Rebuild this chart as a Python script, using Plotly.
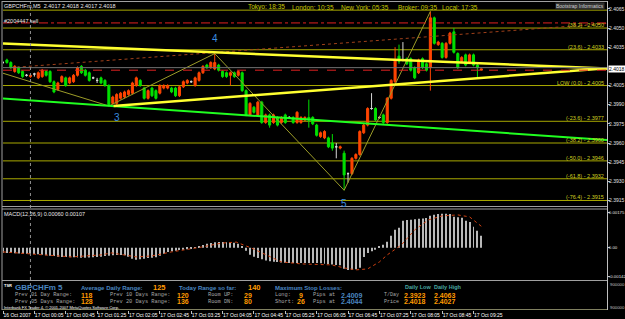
import plotly.graph_objects as go

W, H = 625, 319

# ---------------- data ----------------
bar_idx = list(range(123))  # 5-minute bars, 16 Oct 23:25 .. 17 Oct 09:35

opens = [2.4023,2.4025,2.4023,2.4016,2.4019,2.4016,2.4013,2.4012,2.4014,2.4011,
         2.4012,2.4016,2.4016,2.4008,2.4002,2.4008,2.4011,2.4007,2.4008,2.4013,
         2.4020,2.4017,2.4015,2.4011,2.4009,2.4011,2.4009,2.4005,2.3991,2.3991,
         2.3995,2.3996,2.3998,2.3999,2.4005,2.4009,2.4003,2.3995,2.4003,2.4001,
         2.3999,2.4003,2.4003,2.4003,2.4003,2.3997,2.4004,2.4007,2.4008,2.4005,
         2.4009,2.4015,2.4021,2.4019,2.4018,2.4021,2.4016,2.4015,2.4013,2.4015,
         2.4013,2.4015,2.4001,2.3982,2.3988,2.3982,2.3992,2.3976,2.3982,2.3976,
         2.3980,2.3976,2.3982,2.3980,2.3980,2.3976,2.3976,2.3978,2.3980,2.3980,
         2.3974,2.3965,2.3964,2.3964,2.3960,2.3957,2.3956,2.3952,2.3936,2.3936,
         2.3948,2.3951,2.3968,2.3974,2.3987,2.3987,2.3980,2.3982,2.3976,2.3995,
         2.4008,2.4028,2.4025,2.4026,2.4026,2.4019,2.4015,2.4026,2.4022,2.4019,
         2.4058,2.4037,2.4038,2.4027,2.4038,2.4047,2.4030,2.4024,2.4029,2.4023,
         2.4029,2.4021,2.4017]
highs = [2.4024,2.4026,2.4024,2.4021,2.4020,2.4017,2.4014,2.4014,2.4015,2.4016,
         2.4018,2.4017,2.4017,2.4009,2.4008,2.4013,2.4012,2.4012,2.4014,2.4020,
         2.4021,2.4018,2.4016,2.4012,2.4011,2.4012,2.4010,2.4006,2.3997,2.3999,
         2.4000,2.4001,2.4002,2.4008,2.4012,2.4010,2.4004,2.4002,2.4004,2.4002,
         2.4006,2.4006,2.4006,2.4004,2.4004,2.4005,2.4009,2.4010,2.4009,2.4012,
         2.4016,2.4021,2.4022,2.4024,2.4030,2.4022,2.4017,2.4016,2.4016,2.4016,
         2.4017,2.4016,2.4002,2.3992,2.3989,2.3993,2.3993,2.3983,2.3983,2.3983,
         2.3981,2.3981,2.3983,2.3981,2.3981,2.3985,2.3981,2.3981,2.3994,2.3981,
         2.3975,2.3969,2.3970,2.3965,2.3967,2.3960,2.3958,2.3954,2.3937,2.3949,
         2.3952,2.3970,2.3975,2.3988,2.3999,2.3988,2.3981,2.3983,2.3996,2.4010,
         2.4035,2.4037,2.4039,2.4027,2.4027,2.4020,2.4026,2.4027,2.4023,2.4063,
         2.4059,2.4040,2.4039,2.4039,2.4047,2.4050,2.4031,2.4028,2.4030,2.4030,
         2.4030,2.4022,2.4018]
lows = [2.4022,2.4022,2.4018,2.4015,2.4014,2.4011,2.4012,2.4011,2.4012,2.4010,
        2.4011,2.4012,2.4007,2.3999,2.4001,2.4007,2.4004,2.4006,2.4007,2.4012,
        2.4014,2.4012,2.4008,2.4010,2.4007,2.4006,2.4004,2.3989,2.3990,2.3990,
        2.3994,2.3995,2.3997,2.3998,2.4004,2.4004,2.3994,2.3994,2.3996,2.3994,
        2.3998,2.4002,2.4002,2.3999,2.3996,2.3996,2.4003,2.4006,2.4007,2.4004,
        2.4008,2.4014,2.4018,2.4018,2.4017,2.4016,2.4011,2.4011,2.4005,2.4011,
        2.4012,2.4000,2.3981,2.3981,2.3983,2.3981,2.3975,2.3975,2.3972,2.3975,
        2.3973,2.3975,2.3975,2.3979,2.3975,2.3975,2.3975,2.3977,2.3972,2.3974,
        2.3965,2.3964,2.3963,2.3956,2.3954,2.3948,2.3955,2.3923,2.3929,2.3935,
        2.3947,2.3950,2.3967,2.3973,2.3986,2.3977,2.3979,2.3975,2.3975,2.3994,
        2.4007,2.4022,2.4024,2.4021,2.4016,2.4010,2.4014,2.4018,2.4016,2.4001,
        2.4037,2.4036,2.4026,2.4026,2.4037,2.4030,2.4018,2.4023,2.4020,2.4022,
        2.4020,2.4011,2.4017]
closes = [2.4023,2.4023,2.4019,2.4020,2.4015,2.4012,2.4013,2.4013,2.4014,2.4015,
          2.4017,2.4013,2.4008,2.4000,2.4007,2.4012,2.4005,2.4011,2.4013,2.4019,
          2.4015,2.4013,2.4009,2.4011,2.4009,2.4007,2.4005,2.3990,2.3996,2.3998,
          2.3999,2.4000,2.4001,2.4007,2.4011,2.4005,2.3995,2.4001,2.3997,2.3995,
          2.4005,2.4005,2.4005,2.4000,2.3997,2.4004,2.4008,2.4009,2.4008,2.4011,
          2.4015,2.4020,2.4019,2.4023,2.4023,2.4017,2.4012,2.4012,2.4015,2.4012,
          2.4016,2.4001,2.3982,2.3991,2.3984,2.3992,2.3976,2.3982,2.3974,2.3982,
          2.3974,2.3980,2.3976,2.3980,2.3976,2.3984,2.3980,2.3980,2.3978,2.3975,
          2.3966,2.3968,2.3969,2.3957,2.3956,2.3957,2.3957,2.3935,2.3936,2.3948,
          2.3951,2.3969,2.3974,2.3987,2.3987,2.3978,2.3980,2.3976,2.3995,2.4009,
          2.4025,2.4024,2.4025,2.4022,2.4017,2.4011,2.4025,2.4019,2.4017,2.4058,
          2.4038,2.4039,2.4027,2.4038,2.4046,2.4031,2.4019,2.4027,2.4021,2.4029,
          2.4021,2.4019,2.4018]

macd_hist = [-0.00025,-0.00026,-0.00027,-0.00028,-0.00029,-0.00030,-0.00030,-0.00030,
             -0.00031,-0.00033,-0.00035,-0.00038,-0.00040,-0.00042,-0.00045,-0.00046,
             -0.00047,-0.00048,-0.00048,-0.00049,-0.00050,-0.00050,-0.00049,-0.00048,-0.00047,-0.00045,
             -0.00042,-0.00040,-0.00038,-0.00037,-0.00037,-0.00038,-0.00045,
             -0.00055,-0.00060,-0.00058,
             -0.00055,-0.00052,-0.00050,-0.00048,-0.00040,
             -0.00030,-0.00022,-0.00018,-0.00015,-0.00012,-0.00010,-0.00008,-0.00005,
             0.00002,0.00008,0.00014,0.00020,0.00024,0.00027,0.00028,0.00028,0.00027,0.00026,0.00025,
             0.00020,0.00005,-0.00015,
             -0.00035,-0.00045,-0.00052,-0.00058,-0.00064,-0.00068,
             -0.00070,-0.00072,-0.00074,-0.00075,-0.00076,-0.00077,-0.00077,-0.00077,-0.00077,-0.00076,-0.00076,-0.00077,-0.00078,
             -0.00080,-0.00082,-0.00084,-0.00086,-0.00088,
             -0.00105,-0.00112,-0.00110,-0.00108,-0.00100,
             -0.00047,-0.00027,-0.00018,-0.00010,0.00005,
             0.00015,0.00030,0.00060,
             0.00090,0.00100,
             0.00135,0.00138,0.00140,0.00142,0.00145,0.00146,0.00148,
             0.00160,0.00165,0.00168,0.00170,0.00170,0.00168,
             0.00155,0.00152,0.00150,
             0.00135,0.00128,
             0.00105,0.00085,0.00060]

signal_idx = [0, 12.3, 17.5, 25, 27.7, 34, 38, 43, 50.6, 55.7, 59.5, 63.4, 67.2, 71,
              76, 83.8, 87, 90, 93, 96, 98, 101.6, 105, 108.5, 112, 116, 119, 122]
signal_val = [-0.00021,-0.00036,-0.00046,-0.00036,-0.00026,-0.00046,-0.00041,-0.00021,
              0.00003,0.00023,0.00028,-0.00002,-0.00036,-0.00071,-0.00081,-0.00086,
              -0.00101,-0.00111,-0.00106,-0.00071,-0.00036,0.00014,0.00089,0.00139,
              0.00159,0.00164,0.00154,0.00107]

fib_prices = [2.4064, 2.4050, 2.4033, 2.4005, 2.3977, 2.3960, 2.3946, 2.3932, 2.3915]
fib_texts = ["(50.0) - 2.4064", "(38.2) - 2.4050", "(23.6) - 2.4033", "LOW (0.0) - 2.4005",
             "(-23.6) - 2.3977", "(-38.2) - 2.3960", "(-50.0) - 2.3946", "(-61.8) - 2.3932",
             "(-76.4) - 2.3915"]

sell_order_price = 2.4054
red_level_price = 2.4017
bid_price = 2.4018

trend_down_x, trend_down_y = [-1, 156], [2.4038, 2.4018]      # yellow
trend_up_x, trend_up_y = [28.2, 156], [2.3989, 2.4019]        # yellow
trend_green_x, trend_green_y = [-1, 156], [2.3995, 2.3962]    # lime
trend_red_x, trend_red_y = [2, 156], [2.4019, 2.4054]         # brown

zigzag_x = [-0.4, 27, 54, 87, 109]
zigzag_y = [2.4015, 2.3989, 2.4030, 2.3923, 2.4063]

wave_labels = ["3", "4", "5"]
wave_x = [29, 54, 87]
wave_y = [2.3980, 2.4042, 2.3913]

price_ticks = [2.4065, 2.4050, 2.4035, 2.4005, 2.3990, 2.3975, 2.3960, 2.3945, 2.3930, 2.3915]
macd_ticks = [0.00175, 0.0, -0.00142]
macd_tick_text = ["0.00175", "0.00", "-0.00142"]

time_tick_idx = [0, 8, 16, 24, 32, 40, 48, 56, 64, 72, 80, 88, 96, 104, 112, 120]
time_tick_text = ["16 Oct 2007", "17 Oct 00:05", "17 Oct 00:45", "17 Oct 01:25", "17 Oct 02:05",
                  "17 Oct 02:45", "17 Oct 03:25", "17 Oct 04:05", "17 Oct 04:45", "17 Oct 05:25",
                  "17 Oct 06:05", "17 Oct 06:45", "17 Oct 07:25", "17 Oct 08:05", "17 Oct 08:45",
                  "17 Oct 09:25"]
day_separator_idx = 7

# ---------------- styles ----------------
UP = "#ff4500"
DN = "#00e000"
DOJI = "#d8d8d8"
FIB = "#a8a800"
FONT = "Liberation Sans"

fig = go.Figure()

def candle_subset(sel, inc, dec):
    return go.Candlestick(
        x=[bar_idx[i] for i in sel], open=[opens[i] for i in sel], high=[highs[i] for i in sel],
        low=[lows[i] for i in sel], close=[closes[i] for i in sel],
        increasing=dict(line=dict(color=inc, width=1), fillcolor=inc),
        decreasing=dict(line=dict(color=dec, width=1), fillcolor=dec),
        whiskerwidth=0, showlegend=False, hoverinfo="skip", xaxis="x", yaxis="y")

up_sel = [i for i in bar_idx if closes[i] > opens[i]]
dn_sel = [i for i in bar_idx if closes[i] < opens[i]]
dj_sel = [i for i in bar_idx if closes[i] == opens[i]]
fig.add_trace(candle_subset(up_sel, UP, UP))
fig.add_trace(candle_subset(dn_sel, DN, DN))
fig.add_trace(candle_subset(dj_sel, DOJI, DOJI))

def line(x, y, color, width, dash="solid"):
    fig.add_trace(go.Scatter(x=x, y=y, mode="lines", line=dict(color=color, width=width, dash=dash),
                             showlegend=False, hoverinfo="skip", xaxis="x", yaxis="y"))

line(trend_red_x, trend_red_y, "#a0401a", 1, "dot")
line(zigzag_x, zigzag_y, "#9c9c28", 1)
line(trend_green_x, trend_green_y, "#20ff20", 2)
line(trend_down_x, trend_down_y, "#ffff30", 2.5)
line(trend_up_x, trend_up_y, "#ffff30", 2.5)

# MACD
fig.add_trace(go.Bar(x=bar_idx, y=macd_hist, width=0.25, marker=dict(color="#b8b8b8", line=dict(width=0)),
                     showlegend=False, hoverinfo="skip", xaxis="x", yaxis="y2"))
fig.add_trace(go.Scatter(x=signal_idx, y=signal_val, mode="lines",
                         line=dict(color="#d04010", width=1, dash="dot"),
                         showlegend=False, hoverinfo="skip", xaxis="x", yaxis="y2"))

X0, X1 = 3 / W, 607 / W
shapes = []
for p in fib_prices:
    shapes.append(dict(type="line", xref="paper", x0=X0, x1=X1, yref="y", y0=p, y1=p,
                       line=dict(color=FIB, width=1), layer="below"))
shapes.append(dict(type="line", xref="paper", x0=X0, x1=X1, yref="y", y0=sell_order_price, y1=sell_order_price,
                   line=dict(color="#e02020", width=1, dash="dashdot")))
shapes.append(dict(type="line", xref="paper", x0=X0, x1=X1, yref="y", y0=bid_price + 0.0001, y1=bid_price + 0.0001,
                   line=dict(color="#707070", width=1)))
shapes.append(dict(type="line", xref="paper", x0=X0, x1=X1, yref="y", y0=red_level_price, y1=red_level_price,
                   line=dict(color="#e02020", width=1, dash="dash")))
# day separator
shapes.append(dict(type="line", xref="x", x0=day_separator_idx, x1=day_separator_idx, yref="paper",
                   y0=1 - 310 / H, y1=1 - 2 / H, line=dict(color="#909090", width=1, dash="dot")))

def hline(py, color="#a0a0a0", x0=2, x1=607):
    shapes.append(dict(type="line", xref="paper", yref="paper", x0=x0 / W, x1=x1 / W,
                       y0=1 - py / H, y1=1 - py / H, line=dict(color=color, width=1)))

def vline(px, y0=1, y1=310, color="#a0a0a0"):
    shapes.append(dict(type="line", xref="paper", yref="paper", x0=px / W, x1=px / W,
                       y0=1 - y1 / H, y1=1 - y0 / H, line=dict(color=color, width=1)))

hline(1.5)
hline(206.5)
hline(209)
hline(280.5)
hline(309.5, "#808060")
vline(2)
vline(607.5, color="#c0c0c0")

anns = []
def ann(text, x, y, size, color, anchor="left", bold=False, family=FONT, bg=None):
    t = f"<b>{text}</b>" if bold else text
    d = dict(text=t, x=x / W, y=1 - y / H, xref="paper", yref="paper", xanchor=anchor, yanchor="middle",
             showarrow=False, borderpad=0, font=dict(size=size, color=color, family=family))
    if bg:
        d["bgcolor"] = bg
    anns.append(d)

# header
ann("GBPCHFm,M5  2.4017 2.4018 2.4017 2.4018", 3, 5.5, 5.5, "#e8e8e8")
for txt, x in [("Tokyo: 18:35", 247), ("London: 10:35", 291), ("New York: 05:35", 340),
               ("Broker: 09:35", 397), ("Local: 17:35", 441)]:
    ann(txt, x, 7.5, 6.5, "#c8c800")
ann("Bootstrap Informatics", 605, 6, 5, "#d0d0d0", anchor="right", bg="#303030")
ann("#2004447 sell", 3, 21, 5.5, "#e8e8e8")

# fib labels
for p, t in zip(fib_prices, fib_texts):
    if p == fib_prices[0]:
        continue
    anns.append(dict(text=t, x=605 / W, xref="paper", y=p, yref="y", xanchor="right", yanchor="bottom",
                     yshift=-1, showarrow=False, borderpad=0,
                     font=dict(size=5.5, color="#d0d020", family=FONT)))

# wave labels
for t, x, y in zip(wave_labels, wave_x, wave_y):
    anns.append(dict(text=t, x=x, y=y, xref="x", yref="y", showarrow=False, borderpad=0,
                     font=dict(size=10, color="#3a8ee0", family=FONT)))

# current price box
anns.append(dict(text="2.4018", x=608 / W, xref="paper", y=bid_price, yref="y", xanchor="left",
                 yanchor="middle", showarrow=False, bgcolor="#ffffff", borderpad=0,
                 font=dict(size=5, color="#000000", family=FONT)))

# MACD label
ann("MACD(12,26,9) 0.00060 0.00107", 3, 214, 5.5, "#e8e8e8")

# info panel
BLUE = "#4a86c0"
ORG = "#ff9a00"
GRY = "#a8a8a8"
MONO = "Liberation Mono"
ann("TSR", 3, 285, 4, "#ffffff", bold=True)
ann("GBPCHFm 5", 14, 287.5, 8, BLUE, bold=True)
ann("Average Daily Range:", 80, 287.5, 6, BLUE, bold=True)
ann("125", 152, 287.5, 7.5, ORG, bold=True)
ann("Today Range so far:", 178, 287.5, 6, BLUE, bold=True)
ann("140", 247, 287.5, 7.5, ORG, bold=True)
ann("Maximum Stop Losses:", 274, 287.5, 6, BLUE, bold=True)

ann("Prev 01 Day Range:", 14, 295, 5.3, GRY, family=MONO)
ann("118", 80, 295.5, 7, ORG, bold=True)
ann("Prev 10 Days Range:", 109, 295, 5.3, GRY, family=MONO)
ann("120", 176, 295.5, 7, ORG, bold=True)
ann("Room UP:", 207, 295, 5.3, GRY, family=MONO)
ann("29", 243, 295.5, 7, ORG, bold=True)
ann("Long:", 274, 295, 5.3, GRY, family=MONO)
ann("9", 298, 295.5, 7, ORG, bold=True)
ann("Pips at", 312, 295, 5.3, GRY, family=MONO)
ann("2.4009", 340, 295.5, 7, BLUE, bold=True)

ann("Prev 05 Days Range:", 14, 301.5, 5.3, GRY, family=MONO)
ann("128", 80, 301.5, 7, ORG, bold=True)
ann("Prev 20 Days Range:", 109, 301.5, 5.3, GRY, family=MONO)
ann("136", 176, 301.5, 7, ORG, bold=True)
ann("Room DN:", 207, 301.5, 5.3, GRY, family=MONO)
ann("80", 243, 301.5, 7, ORG, bold=True)
ann("Short:", 274, 301.5, 5.3, GRY, family=MONO)
ann("26", 296, 301.5, 7, ORG, bold=True)
ann("Pips at", 312, 301.5, 5.3, GRY, family=MONO)
ann("2.4044", 340, 301.5, 7, BLUE, bold=True)

ann("Daily Low", 404, 286.5, 5.5, "#48a8a0", bold=True)
ann("Daily High", 433, 286.5, 5.5, "#48a8a0", bold=True)
ann("T/Day", 383, 295, 5, GRY, family=MONO)
ann("2.3923", 403, 295.5, 7, ORG, bold=True)
ann("2.4063", 433, 295.5, 7, ORG, bold=True)
ann("Price", 383, 301.5, 5, GRY, family=MONO)
ann("2.4018", 403, 301.5, 7, ORG, bold=True)
ann("2.4027", 433, 301.5, 7, ORG, bold=True)
ann("Interbank FX Trader 4, \u00a9 2001-2007 MetaQuotes Software Corp.", 3, 307, 4, "#ffffff")

ann("900000", 609, 284, 4.3, "#c0c0c0")
ann("900000", 609, 307, 4.3, "#c0c0c0")

AXFONT = dict(size=5, color="#e0e0e0", family=FONT)
fig.update_layout(
    width=W, height=H, margin=dict(l=0, r=0, t=0, b=0, autoexpand=False),
    paper_bgcolor="#000000", plot_bgcolor="#000000",
    showlegend=False, boxgap=0.25,
    shapes=shapes, annotations=anns,
    font=dict(family=FONT, color="#e0e0e0"),
    xaxis=dict(domain=[X0, X1], range=[0, 154.05], anchor="free", position=1 - 309.5 / H,
               showgrid=False, zeroline=False, showline=False, automargin=False,
               ticks="outside", ticklen=3, tickcolor="#c0c0c0", tickangle=0,
               tickvals=time_tick_idx, ticktext=time_tick_text, ticklabelposition="outside right",
               tickfont=dict(size=5, color="#ffffff", family=FONT),
               rangeslider=dict(visible=False), fixedrange=True),
    yaxis=dict(domain=[1 - 207 / H, 1 - 3 / H], range=[2.39099, 2.40696], side="right",
               anchor="free", position=X1, showgrid=False, zeroline=False, showline=False,
               automargin=False, ticks="outside", ticklen=2, tickcolor="#c0c0c0",
               ticklabelstandoff=-2,
               tickvals=price_ticks, ticktext=[f"{v:.4f}" for v in price_ticks], tickfont=AXFONT),
    yaxis2=dict(domain=[1 - 279 / H, 1 - 209 / H], range=[-0.001565, 0.001935], side="right",
                anchor="free", position=X1, showgrid=False, zeroline=False, showline=False,
                automargin=False, ticks="outside", ticklen=2, tickcolor="#c0c0c0",
                ticklabelstandoff=-2,
                tickvals=macd_ticks, ticktext=macd_tick_text, tickfont=dict(size=4.3, color="#e0e0e0", family=FONT)),
)

fig.write_html("out.html")
